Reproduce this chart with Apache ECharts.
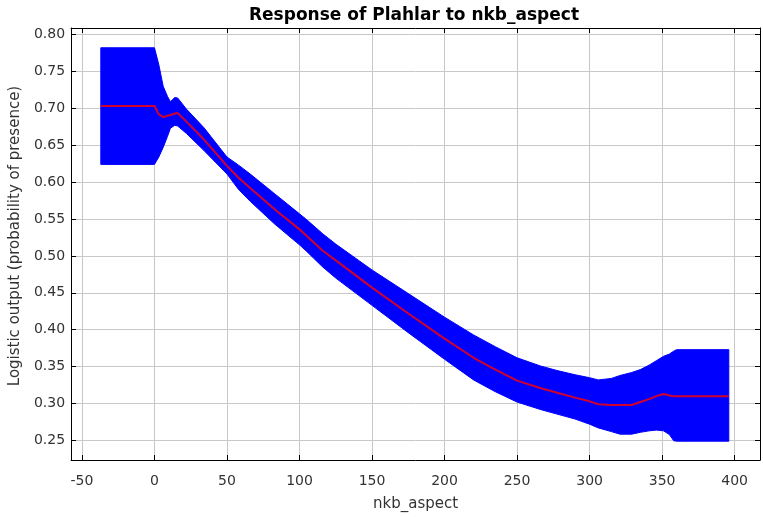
<!DOCTYPE html>
<html><head><meta charset="utf-8">
<script src="https://cdn.jsdelivr.net/npm/echarts@6/dist/echarts.min.js"></script>
<style>html,body{margin:0;padding:0;background:#fff}#c{width:763px;height:517px}</style>
</head><body><div id="c"></div>
<script>
// nkb_aspect values sampled along the response curve
const aspect = [-37, 0, 3, 6, 9, 11, 14, 16, 22, 34, 50, 58, 66, 83, 100, 105, 116, 125, 150, 175, 200, 220, 235, 250, 266, 277, 290, 300, 306, 315, 321, 329, 335, 341, 346, 351, 355, 358, 360, 396];
// mean logistic output (red line)
const meanResp = [0.703, 0.703, 0.692, 0.688, 0.690, 0.691, 0.693, 0.6935, 0.682, 0.658, 0.622, 0.606, 0.592, 0.563, 0.536, 0.527, 0.507, 0.494, 0.457, 0.422, 0.388, 0.362, 0.346, 0.331, 0.321, 0.315, 0.308, 0.303, 0.299, 0.298, 0.298, 0.298, 0.302, 0.306, 0.310, 0.313, 0.311, 0.310, 0.310, 0.310];
// mean - one std dev (lower edge of blue band)
const lowerResp = [0.624, 0.624, 0.634, 0.647, 0.662, 0.673, 0.677, 0.676, 0.666, 0.643, 0.611, 0.590, 0.574, 0.543, 0.515, 0.506, 0.485, 0.470, 0.433, 0.396, 0.360, 0.332, 0.316, 0.302, 0.292, 0.286, 0.279, 0.272, 0.267, 0.262, 0.2585, 0.2585, 0.261, 0.263, 0.264, 0.263, 0.258, 0.2496, 0.249, 0.249];
// mean + one std dev (upper edge of blue band)
const upperResp = [0.782, 0.782, 0.759, 0.730, 0.716, 0.709, 0.7146, 0.714, 0.699, 0.674, 0.634, 0.623, 0.611, 0.584, 0.557, 0.549, 0.530, 0.516, 0.481, 0.449, 0.417, 0.393, 0.377, 0.362, 0.351, 0.345, 0.339, 0.335, 0.332, 0.334, 0.338, 0.342, 0.346, 0.352, 0.358, 0.364, 0.367, 0.371, 0.373, 0.373];

const titleText = 'Response of Plahlar to nkb_aspect';
const xName = 'nkb_aspect';
const yName = 'Logistic output (probability of presence)';

const meanData = aspect.map((x, i) => [x, meanResp[i]]);

const FONT = 'DejaVu Sans';
const xMin = -57.5, xMax = 417.5, yMin = 0.2235, yMax = 0.8088;

const xFmt = v => (Math.abs(v / 50 - Math.round(v / 50)) < 1e-6 ? String(Math.round(v)) : '');
const yFmt = v => (Math.abs(v / 0.05 - Math.round(v / 0.05)) < 1e-4 ? v.toFixed(2) : '');

function renderBand(params, api) {
  if (params.dataIndex !== 0) return;
  const pts = [];
  for (let i = 0; i < aspect.length; i++) pts.push(api.coord([aspect[i], upperResp[i]]));
  for (let i = aspect.length - 1; i >= 0; i--) pts.push(api.coord([aspect[i], lowerResp[i]]));
  return {
    type: 'polygon',
    shape: {points: pts},
    style: {fill: '#0000ff', stroke: '#0000ff', lineWidth: 1}
  };
}

const chart = echarts.init(document.getElementById('c'), null, {renderer: 'canvas'});
chart.setOption({
  animation: false,
  backgroundColor: '#ffffff',
  title: {
    text: titleText,
    left: 414, top: 7, textAlign: 'center', padding: 0,
    textStyle: {fontFamily: FONT, fontSize: 17, fontWeight: 'bold', color: '#000'}
  },
  grid: {left: 66, right: 1, top: 28, bottom: 56, containLabel: false},
  xAxis: [{
    type: 'value', min: xMin, max: xMax, splitNumber: 9,
    name: xName, nameLocation: 'middle', nameGap: 37,
    nameTextStyle: {fontFamily: FONT, fontSize: 15, color: '#333'},
    axisLine: {show: true, onZero: false, lineStyle: {color: '#000', width: 1}},
    axisTick: {show: true, inside: true, length: 5, lineStyle: {color: '#000'}},
    axisLabel: {formatter: xFmt, fontFamily: FONT, fontSize: 14, color: '#333', margin: 14},
    splitLine: {show: true, lineStyle: {color: '#c8c8c8', width: 1}}
  }, {
    type: 'value', min: xMin, max: xMax, splitNumber: 9, position: 'top',
    axisLine: {show: true, onZero: false, lineStyle: {color: '#000', width: 1}},
    axisTick: {show: true, inside: true, length: 5, lineStyle: {color: '#000'}},
    axisLabel: {show: false}, splitLine: {show: false}
  }],
  yAxis: [{
    type: 'value', min: yMin, max: yMax, splitNumber: 12,
    name: yName, nameLocation: 'middle', nameGap: 35, nameRotate: 90,
    nameTextStyle: {fontFamily: FONT, fontSize: 15, color: '#333', padding: [0, 0, 0, 16]},
    axisLine: {show: true, onZero: false, lineStyle: {color: '#000', width: 1}},
    axisTick: {show: true, inside: true, length: 5, lineStyle: {color: '#000'}},
    axisLabel: {formatter: yFmt, fontFamily: FONT, fontSize: 14, color: '#333', margin: 6},
    splitLine: {show: true, lineStyle: {color: '#c8c8c8', width: 1}}
  }, {
    type: 'value', min: yMin, max: yMax, splitNumber: 12, position: 'right',
    axisLine: {show: true, onZero: false, lineStyle: {color: '#000', width: 1}},
    axisTick: {show: true, inside: true, length: 5, lineStyle: {color: '#000'}},
    axisLabel: {show: false}, splitLine: {show: false}
  }],
  series: [{
    name: 'band', type: 'custom', renderItem: renderBand,
    data: [[aspect[0], upperResp[0]]], silent: true, z: 2,
    encode: {x: 0, y: 1}
  }, {
    name: 'mean', type: 'line', data: meanData,
    showSymbol: false, symbol: 'none', silent: true,
    lineStyle: {color: '#d2002c', width: 2}, z: 3
  }]
});
</script>
</body></html>
